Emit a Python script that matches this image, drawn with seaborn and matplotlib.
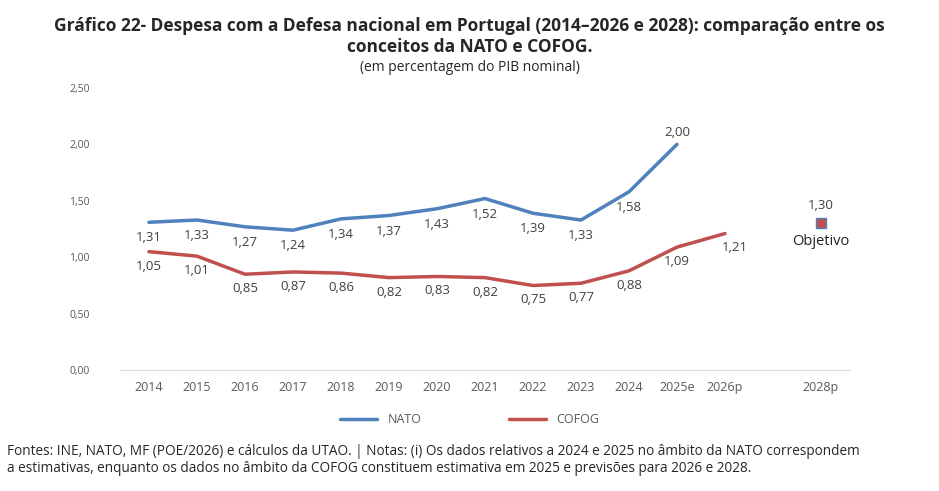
import matplotlib
matplotlib.use("Agg")
from matplotlib import pyplot as plt
from matplotlib.lines import Line2D
import seaborn as sns
import pandas as pd
import numpy as np

years = ['2014', '2015', '2016', '2017', '2018', '2019', '2020', '2021',
         '2022', '2023', '2024', '2025e', '2026p', '2028p']
positions = [0, 1, 2, 3, 4, 5, 6, 7, 8, 9, 10, 11, 12, 14]
nato = [1.31, 1.33, 1.27, 1.24, 1.34, 1.37, 1.43, 1.52, 1.39, 1.33, 1.58, 2.00]
cofog = [1.05, 1.01, 0.85, 0.87, 0.86, 0.82, 0.83, 0.82, 0.75, 0.77, 0.88, 1.09, 1.21]
objetivo = 1.30

blue = '#4f81bd'
red = '#c0504d'

sns.set_style('white')
plt.rcParams['font.family'] = ['Open Sans', 'DejaVu Sans']

df = pd.concat([
    pd.DataFrame({'x': positions[:len(nato)], 'v': nato, 's': 'NATO'}),
    pd.DataFrame({'x': positions[:len(cofog)], 'v': cofog, 's': 'COFOG'}),
])

fig = plt.figure(figsize=(9.39, 4.91), dpi=100)
ax = fig.add_axes([0.128, 0.246, 0.777, 0.575])
sns.lineplot(data=df, x='x', y='v', hue='s', palette={'NATO': blue, 'COFOG': red},
             linewidth=2.5, ax=ax, legend=False)
ax.scatter([positions[-1]], [objetivo], marker='s', s=60, color=red,
           edgecolor=blue, linewidth=1, zorder=5)

gray = '#404040'
fmt = lambda v: f'{v:.2f}'.replace('.', ',')
for i, v in enumerate(nato):
    if i == 11:
        ax.text(positions[i], v + 0.07, fmt(v), ha='center', fontsize=9.5, color=gray)
    else:
        ax.text(positions[i], v - 0.08, fmt(v), ha='center', va='top', fontsize=9.5, color=gray)
for i, v in enumerate(cofog):
    dx = 0.2 if i == 12 else 0
    ax.text(positions[i] + dx, v - 0.07, fmt(v), ha='center', va='top', fontsize=9.5, color=gray)
ax.text(14, objetivo + 0.13, '1,30', ha='center', fontsize=9.5, color=gray)
ax.text(14, objetivo - 0.09, 'Objetivo', ha='center', va='top', fontsize=10.5, color='#222222')

ax.set_xlim(-0.6, 14.6)
ax.set_ylim(0, 2.5)
ax.set_xticks(positions)
ax.set_xticklabels(years)
yt = np.arange(0, 2.51, 0.5)
ax.set_yticks(yt)
ax.set_yticklabels([fmt(t) for t in yt])
ax.tick_params(axis='x', labelsize=9, colors='#595959', length=0, pad=8)
ax.tick_params(axis='y', labelsize=7.5, colors='#595959', length=0, pad=22)
ax.set_xlabel('')
ax.set_ylabel('')
for s in ['top', 'right', 'left']:
    ax.spines[s].set_visible(False)
ax.spines['bottom'].set_color('#d9d9d9')

handles = [Line2D([], [], color=blue, lw=2.5), Line2D([], [], color=red, lw=2.5)]
fig.legend(handles, ['NATO', 'COFOG'], loc='center', bbox_to_anchor=(0.5, 0.145),
           ncol=2, frameon=False, fontsize=9, columnspacing=7, handlelength=3,
           labelcolor='#595959')

fig.text(0.5, 0.948, 'Gráfico 22- Despesa com a Defesa nacional em Portugal (2014–2026 e 2028): comparação entre os',
         ha='center', va='center', fontsize=12.5, fontweight='bold')
fig.text(0.5, 0.904, 'conceitos da NATO e COFOG.', ha='center', va='center', fontsize=12.5, fontweight='bold')
fig.text(0.5, 0.863, '(em percentagem do PIB nominal)', ha='center', va='center', fontsize=10)
fig.text(0.007, 0.08, 'Fontes: INE, NATO, MF (POE/2026) e cálculos da UTAO. | Notas: (i) Os dados relativos a 2024 e 2025 no âmbito da NATO correspondem',
         ha='left', va='center', fontsize=9.8)
fig.text(0.007, 0.045, 'a estimativas, enquanto os dados no âmbito da COFOG constituem estimativa em 2025 e previsões para 2026 e 2028.',
         ha='left', va='center', fontsize=9.8)

fig.savefig('out.png', dpi=100)
